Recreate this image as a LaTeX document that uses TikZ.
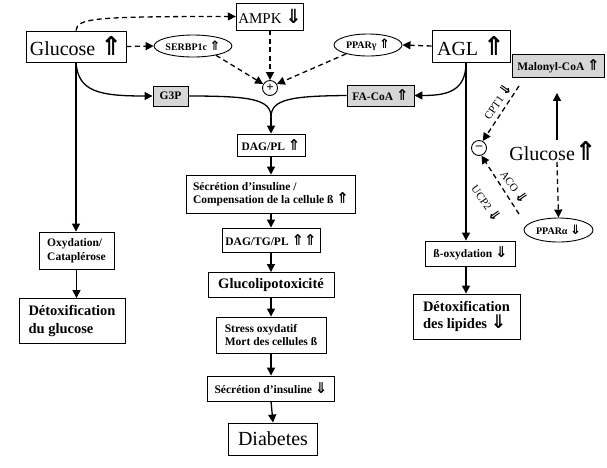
\documentclass[tikz,border=0pt]{standalone}
\usepackage{fontspec}
\setmainfont{Liberation Serif}
\newfontfamily\arrfont{DejaVu Sans}
\newcommand\UA{\scalebox{1.3}{\arrfont\bfseries ⇑}}
\newcommand\DA{\scalebox{1.3}{\arrfont\bfseries ⇓}}
\usetikzlibrary{arrows.meta,shapes.geometric}
\begin{document}
\begin{tikzpicture}[x=1pt,y=-1pt,
  sz/.style 2 args={minimum width=#1pt,minimum height=#2pt},
  bx/.style={draw=black,line width=0.9pt,inner sep=2pt,align=center,
    font=\fontsize{11.5}{13.5}\selectfont\bfseries},
  gbx/.style={bx,fill=gray!32},
  big/.style={draw=black,line width=0.9pt,inner sep=2pt,font=\fontsize{20}{22}\selectfont},
  mid/.style={bx,font=\fontsize{14.5}{17.5}\selectfont\bfseries},
  ell/.style={draw=black,ellipse,line width=0.9pt,inner sep=0pt,
    font=\fontsize{10}{11}\selectfont\bfseries},
  sign/.style={draw=black,circle,line width=0.9pt,minimum size=15pt,inner sep=0pt,
    font=\fontsize{13}{13}\selectfont\bfseries},
  lab/.style={font=\fontsize{11}{12}\selectfont,inner sep=0pt},
  arr/.style={line width=1.3pt,-{Triangle[length=8pt,width=8pt]}},
  darr/.style={arr,dash pattern=on 5pt off 3.5pt}]
\fill[white] (0,0) rectangle (607,467);
\useasboundingbox (0,0) rectangle (607,467);

% top row
\node[big,sz={100}{31}] (glu) at (76,46.5) {Glucose \UA};
\node[big,font=\fontsize{15}{16}\selectfont,sz={60}{27}] (ampk) at (270,16.5) {AMPK \DA};
\node[ell,sz={70}{22}] (serbp) at (193,46) {SERBP1c \UA};
\node[ell,sz={68}{22}] (pparg) at (368,45) {PPARγ \UA};
\node[big,sz={78}{32}] (agl) at (471,46) {AGL \UA};
\node[sign] (plus) at (270,88) {+};
\node[gbx,sz={35}{20}] (g3p) at (170.5,96) {G3P};
\node[gbx,sz={67}{21}] (facoa) at (380.5,95.5) {FA-CoA \UA};
\node[gbx,sz={92}{23}] (malo) at (558.5,66) {Malonyl-CoA \UA};
\node[font=\fontsize{20}{22}\selectfont,inner sep=1pt] (glu2) at (553,151) {Glucose\UA};
\node[ell,sz={69}{24}] (ppara) at (558.5,230) {PPARα \DA};
\node[sign] (minus) at (479,148) {–};

% central chain
\coordinate (merge) at (271,117);
\node[bx,sz={68}{22}] (dag) at (271,145) {DAG/PL \UA};
\node[bx,sz={169}{38},align=left] (sec) at (271,194) {Sécrétion d’insuline /\\Compensation de la cellule ß \UA};
\node[bx,sz={98}{24}] (dagtg) at (271,240) {DAG/TG/PL \UA\UA};
\node[mid,sz={126}{25}] (gluco) at (271,285) {Glucolipotoxicité};
\node[bx,sz={110}{36},align=left] (stress) at (271,335) {Stress oxydatif\\Mort des cellules ß};
\node[bx,sz={127}{25}] (secd) at (271,388.5) {Sécrétion d’insuline \DA};
\node[big,sz={89}{32}] (diab) at (273,439) {Diabetes};

% left column
\node[bx,sz={75}{37},align=left] (oxy) at (76.5,250.5) {Oxydation/\\Cataplérose};
\node[mid,sz={106}{45},align=left] (detg) at (72,321) {Détoxification\\du glucose};

% right column
\node[bx,sz={90}{25}] (boxy) at (470.5,253.5) {ß-oxydation \DA};
\node[mid,sz={107}{45},align=left] (detl) at (466.5,316.5) {Détoxification\\des lipides \DA};

% dashed regulation arrows
\draw[darr] (glu.north) .. controls (77,18) and (95,16.5) .. (ampk.west);
\draw[darr] (glu.east) -- (serbp.west);
\draw[darr] (agl.west) -- (pparg.east);
\draw[darr] (ampk.south) -- (plus.north);
\draw[darr] (serbp.-22) -- (plus.150);
\draw[darr] (pparg.-158) -- (plus.30);

% solid flows into DAG
\draw[arr] (glu.south) .. controls (78,92) and (100,96) .. (g3p.west);
\draw[arr] ([xshift=-5pt]agl.south) .. controls (466,92) and (446,95.5) .. (facoa.east);
\draw[line width=1.3pt] (g3p.east) .. controls (250,96) and (271,99) .. (merge);
\draw[line width=1.3pt] (facoa.west) .. controls (292,96) and (271,99) .. (merge);
\draw[arr] (merge) -- (dag.north);
\draw[arr] (dag.south) -- (sec.north);
\draw[arr] (sec.south) -- (dagtg.north);
\draw[arr] (dagtg.south) -- (gluco.north);
\draw[arr] (gluco.south) -- (stress.north);
\draw[arr] (stress.south) -- (secd.north);
\draw[arr] (secd.south) -- (diab.north);

% left
\draw[arr] (glu.south) -- (glu.south |- oxy.north);
\draw[arr] (oxy.south) -- (oxy.south |- detg.north);

% right
\draw[arr] ([xshift=-5pt]agl.south) -- ([xshift=-5pt]agl.south |- boxy.north);
\draw[arr] ([xshift=-4.5pt]boxy.south) -- ([xshift=-4.5pt]boxy.south |- detl.north);

\draw[arr] ([xshift=4pt]glu2.north) -- ([xshift=-1.5pt,yshift=-15pt]malo.south);
\draw[darr] ([xshift=4pt]glu2.south) -- (ppara.north);

\coordinate (cpts) at (519,86);
\coordinate (acos) at (519,214);
\draw[darr] (cpts) -- (minus.62);
\draw[darr] (acos) -- (minus.-72);
\node[lab,rotate=55] (cpt) at (497,101) {CPT1 \DA};
\node[lab,rotate=-55] (aco) at (515,187) {ACO \DA};
\node[lab,rotate=-55] (ucp) at (487,203) {UCP2 \DA};
\end{tikzpicture}
\end{document}
